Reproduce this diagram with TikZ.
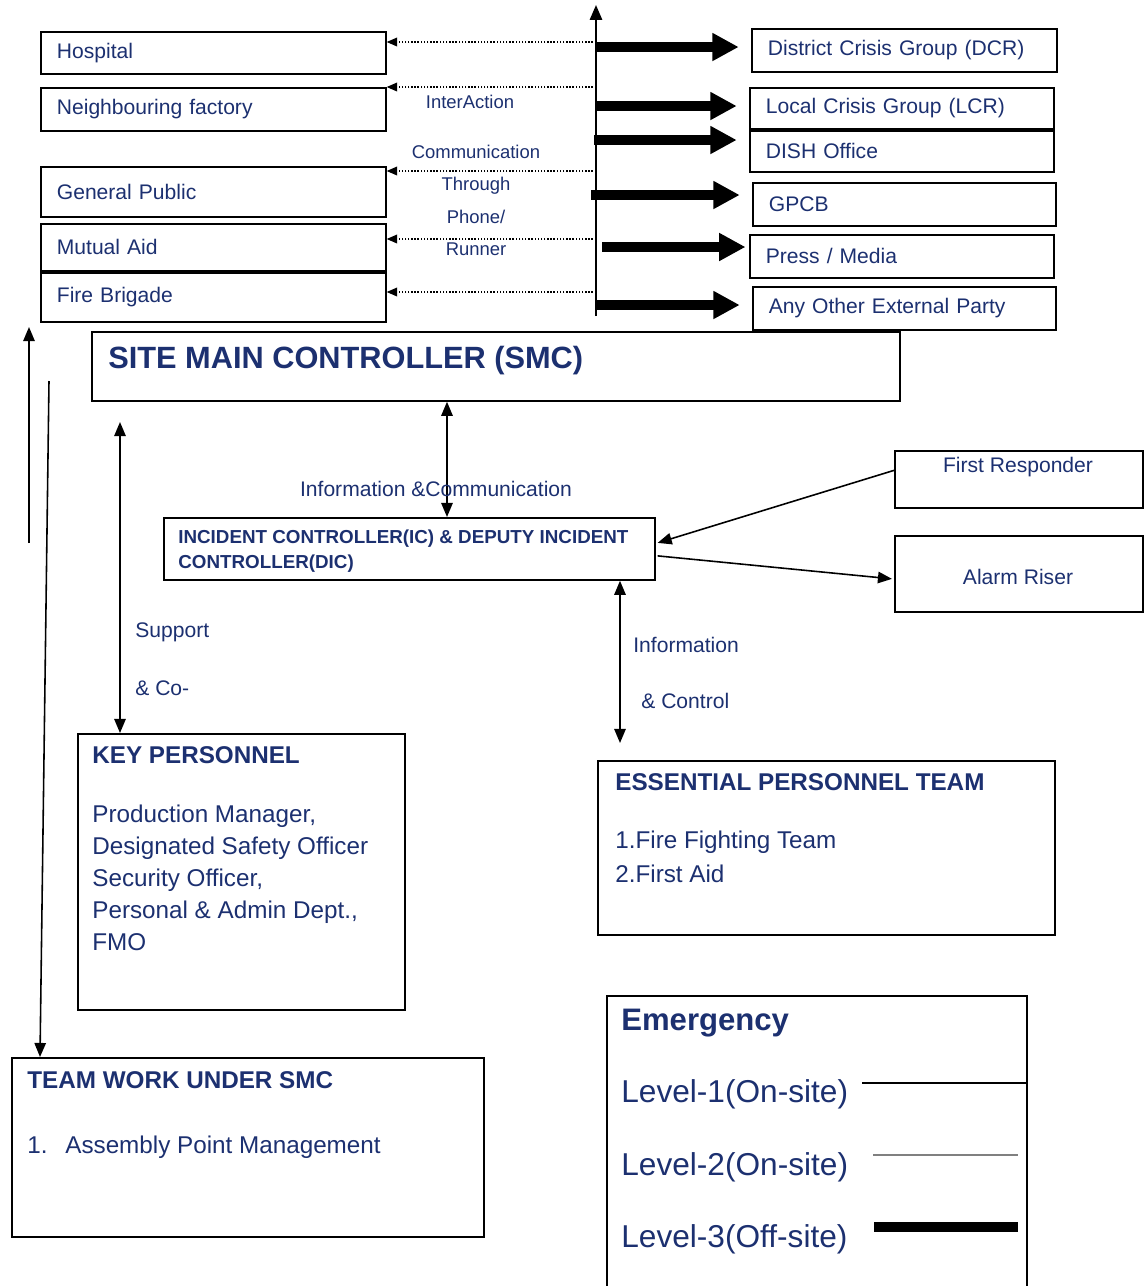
\documentclass[tikz,border=0pt]{standalone}
\usepackage{fontspec}
\setmainfont{Liberation Sans}
\usetikzlibrary{arrows.meta, positioning, calc}
\definecolor{smcblue}{RGB}{28,48,112}

\begin{document}
\begin{tikzpicture}[x=0.02cm, y=-0.02cm]
    \tikzstyle{box} = [rectangle, draw=black, line width=1pt, anchor=north west, inner sep=0pt]
    \tikzstyle{ext} = [box, align=left, inner xsep=0.32cm, text=smcblue, font=\fontsize{12}{14}\selectfont]
    \tikzstyle{txt} = [inner sep=0pt, anchor=base west, align=left, text=smcblue]
    \tikzstyle{lbl} = [inner sep=0pt, anchor=base, text=smcblue, font=\fontsize{10.5}{12}\selectfont]
    \tikzstyle{thin} = [line width=0.9pt, -{Triangle[length=8pt,width=6.5pt]}]
    \tikzstyle{both} = [line width=0.9pt, {Triangle[length=8pt,width=6.5pt]}-{Triangle[length=8pt,width=6.5pt]}]
    \tikzstyle{dots} = [line width=0.8pt, densely dotted, -{Triangle[length=6pt,width=5pt]}]
    \tikzstyle{fat} = [line width=5.5pt, -{Triangle[length=15pt,width=15pt]}, shorten >=7pt]

    \useasboundingbox (0,0) rectangle (1144,1286);

    % outside parties
    \node[ext, text width=6.26cm, minimum height=0.84cm] (hosp) at (40,31) {Hospital};
    \node[ext, text width=6.26cm, minimum height=0.86cm] (nbr) at (40,87) {Neighbouring factory};
    \node[ext, text width=6.26cm, minimum height=1.0cm] (pub) at (40,166) {General Public};
    \node[ext, text width=6.26cm, minimum height=0.94cm] (mut) at (40,223) {Mutual Aid};
    \node[ext, text width=6.26cm, minimum height=0.98cm] (fire) at (40,272) {Fire Brigade};

    \node[ext, text width=5.46cm, minimum height=0.86cm] (dcr) at (751,28) {District Crisis Group (DCR)};
    \node[ext, text width=5.44cm, minimum height=0.82cm] (lcr) at (749,87) {Local Crisis Group (LCR)};
    \node[ext, text width=5.44cm, minimum height=0.82cm] (dish) at (749,130) {DISH Office};
    \node[ext, text width=5.42cm, minimum height=0.86cm] (gpcb) at (752,182) {GPCB};
    \node[ext, text width=5.44cm, minimum height=0.86cm] (press) at (749,234) {Press / Media};
    \node[ext, text width=5.42cm, minimum height=0.86cm] (other) at (752,286) {Any Other External Party};

    % communication spine
    \coordinate (spbot) at (596,316);
    \coordinate (sptop) at (596,5);
    \draw[line width=1.1pt, -{Triangle[length=8.5pt,width=7pt]}] (spbot) -- (sptop);

    \draw[dots] (596,42) -- (hosp.east |- 0,42);
    \draw[dots] (596,87) -- (nbr.east |- 0,87);
    \draw[dots] (596,171) -- (pub.east |- 0,171);
    \draw[dots] (596,239) -- (mut.east |- 0,239);
    \draw[dots] (596,292) -- (fire.east |- 0,292);

    \node[lbl] (l1) at (470,108) {InterAction};
    \node[lbl] (l2) at (476,158) {Communication};
    \node[lbl] (l3) at (476,190) {Through};
    \node[lbl] (l4) at (476,223) {Phone/};
    \node[lbl] (l5) at (476,255) {Runner};

    \draw[fat] (596,47) -- (dcr.west |- 0,47);
    \draw[fat] (596,106) -- (lcr.west |- 0,106);
    \draw[fat] (594,140) -- (dish.west |- 0,140);
    \draw[fat] (591,195) -- (gpcb.west |- 0,195);
    \draw[fat, shorten >=2pt] (602,247) -- (press.west |- 0,247);
    \draw[fat] (596,305) -- (other.west |- 0,305);

    % controllers
    \node[box, minimum width=16.16cm, minimum height=1.38cm] (smc) at (91,331) {};
    \node[txt, font=\bfseries\fontsize{17.5}{20}\selectfont] (smctxt) at (108,368) {SITE MAIN CONTROLLER (SMC)};

    \node[box, minimum width=9.82cm, minimum height=1.24cm] (ic) at (163,517) {};
    \node[txt, anchor=north west, font=\bfseries\fontsize{10.7}{14.2}\selectfont] (ictxt) at (178,530)
        {INCIDENT CONTROLLER(IC) \& DEPUTY INCIDENT\\CONTROLLER(DIC)};

    \draw[both] (smc.south -| 447,0) -- (ic.north -| 447,0);
    \node[lbl, font=\fontsize{12}{14}\selectfont] (infocom) at (436,496) {Information \&Communication};

    \node[box, minimum width=4.96cm, minimum height=1.14cm] (resp) at (894,450) {};
    \node[lbl, font=\fontsize{12}{14}\selectfont] (resptxt) at (1018,472) {First Responder};
    \node[box, minimum width=4.96cm, minimum height=1.52cm] (alarm) at (894,535) {};
    \node[lbl, font=\fontsize{12}{14}\selectfont] (alarmtxt) at (1018,584) {Alarm Riser};

    \draw[thin] ($(resp.west)+(0,-9)$) -- ($(ic.east)+(2,-6)$);
    \draw[thin] ($(ic.east)+(2,7)$) -- ($(alarm.west)+(-2,5)$);

    % left side arrows
    \coordinate (upbot) at (29,543);
    \coordinate (uptop) at (29,327);
    \draw[thin] (upbot) -- (uptop);
    \coordinate (downtop) at (49,381);

    \coordinate (suptop) at (120,422);
    \node[txt, font=\fontsize{12}{14}\selectfont] (sup1) at (135,637) {Support};
    \node[txt, font=\fontsize{12}{14}\selectfont] (sup2) at (135,695) {\& Co-};

    \coordinate (ctlbot) at (620,743);
    \draw[both] (ic.south -| ctlbot) -- (ctlbot);
    \node[txt, font=\fontsize{12}{14}\selectfont] (ctl1) at (633,652) {Information};
    \node[txt, font=\fontsize{12}{14}\selectfont] (ctl2) at (641,708) {\& Control};

    % teams
    \node[box, minimum width=6.54cm, minimum height=5.52cm] (key) at (77,733) {};
    \node[txt, font=\bfseries\fontsize{13.8}{18}\selectfont] (keytxt) at (92,763) {KEY PERSONNEL};
    \node[txt, anchor=north west, font=\fontsize{13.8}{18.1}\selectfont] (keylist) at (92,805)
        {Production Manager,\\Designated Safety Officer\\Security Officer,\\Personal \& Admin Dept.,\\FMO};
    \draw[both] (suptop) -- (key.north -| suptop);

    \node[box, minimum width=9.14cm, minimum height=3.48cm] (ess) at (597,760) {};
    \node[txt, font=\bfseries\fontsize{13.8}{18}\selectfont] (esstxt) at (615,790) {ESSENTIAL PERSONNEL TEAM};
    \node[txt, anchor=north west, font=\fontsize{13.8}{19.3}\selectfont] (esslist) at (615,831)
        {1.Fire Fighting Team\\2.First Aid};

    \node[box, minimum width=9.44cm, minimum height=3.58cm] (team) at (11,1057) {};
    \node[txt, font=\bfseries\fontsize{13.8}{18}\selectfont] (teamtxt) at (27,1088) {TEAM WORK UNDER SMC};
    \node[txt, font=\fontsize{13.8}{18}\selectfont] (teamno) at (27,1153) {1.};
    \node[txt, font=\fontsize{13.8}{18}\selectfont] (teamitem) at (65,1153) {Assembly Point Management};
    \draw[thin] (downtop) -- ($(team.north west)+(29,0)$);

    % legend
    \node[box, minimum width=8.4cm, minimum height=5.9cm] (legend) at (606,995) {};
    \node[txt, font=\bfseries\fontsize{17.7}{20}\selectfont] (legtitle) at (621,1030) {Emergency};
    \node[txt, font=\fontsize{18}{20}\selectfont] (lev1) at (621,1102) {Level-1(On-site)};
    \node[txt, font=\fontsize{18}{20}\selectfont] (lev2) at (621,1175) {Level-2(On-site)};
    \node[txt, font=\fontsize{18}{20}\selectfont] (lev3) at (621,1247) {Level-3(Off-site)};
    \draw[line width=0.9pt] (862,1083) -- (legend.east |- 0,1083);
    \draw[line width=0.6pt, gray] (873,1155) -- (1018,1155);
    \draw[line width=5.7pt] (874,1227) -- (1018,1227);
\end{tikzpicture}
\end{document}
